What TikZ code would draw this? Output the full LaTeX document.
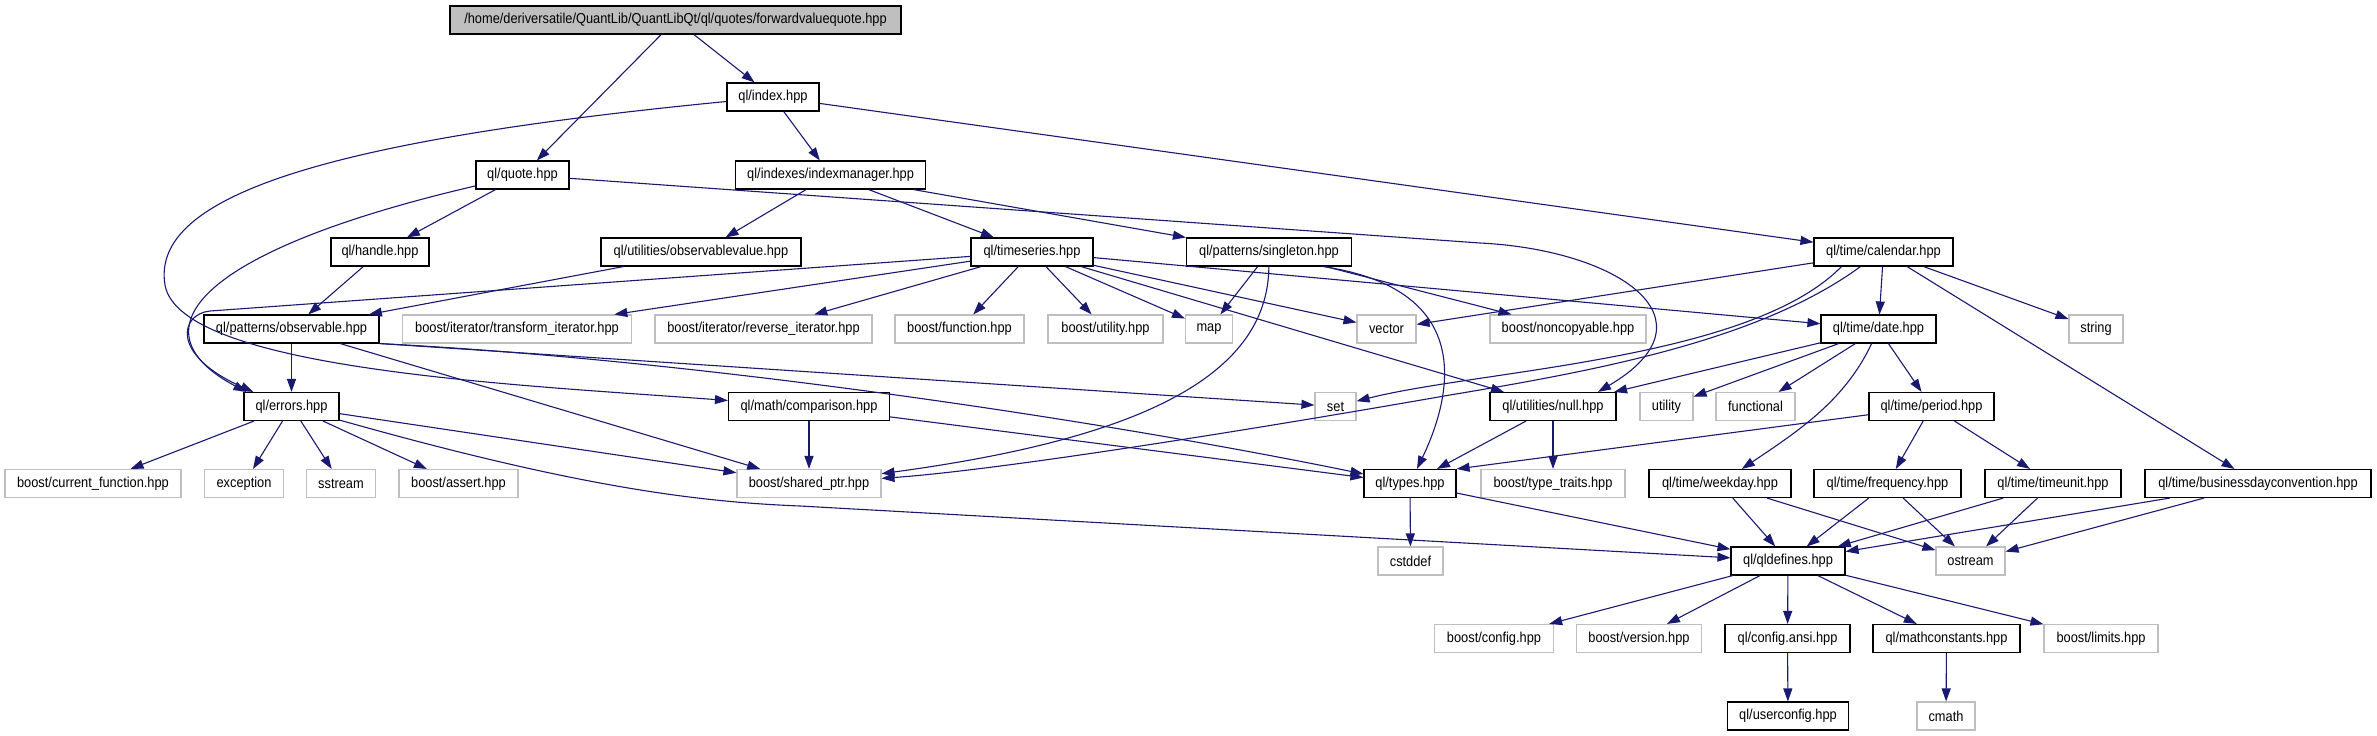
\documentclass[tikz,border=0pt]{standalone}
\usepackage{fontspec}
\setmainfont[FakeStretch=0.89]{Liberation Sans}
\usetikzlibrary{arrows.meta}
\definecolor{edgecol}{HTML}{191970}
\definecolor{boxgray}{HTML}{BFBFBF}
\begin{document}
\begin{tikzpicture}[x=1pt,y=-1pt,
  fbox/.style={rectangle, draw=black, line width=1.1pt, minimum height=28pt, inner sep=0pt, font=\fontsize{14.4}{16}\selectfont, fill=white},
  sbox/.style={fbox, draw=boxgray},
  rbox/.style={fbox, fill=boxgray},
  dep/.style={draw=edgecol, line width=1.1pt, -{Triangle[length=13pt,width=9pt]}},
]
\useasboundingbox (0,0) rectangle (2377,736);
% row 0
\node[rbox, minimum width=451pt] (root) at (675.5,20) {/home/deriversatile/QuantLib/QuantLibQt/ql/quotes/forwardvaluequote.hpp};
% row 1
\node[fbox, minimum width=92pt] (index) at (773,97) {ql/index.hpp};
% row 2
\node[fbox, minimum width=93pt] (quote) at (522.5,175) {ql/quote.hpp};
\node[fbox, minimum width=190pt] (im) at (830.6,175) {ql/indexes/indexmanager.hpp};
% row 3
\node[fbox, minimum width=98pt] (handle) at (380,252) {ql/handle.hpp};
\node[fbox, minimum width=200pt] (obsval) at (701,252) {ql/utilities/observablevalue.hpp};
\node[fbox, minimum width=122pt] (timeseries) at (1032,252) {ql/timeseries.hpp};
\node[fbox, minimum width=165pt] (singleton) at (1269,252) {ql/patterns/singleton.hpp};
\node[fbox, minimum width=139pt] (calendar) at (1883.5,252) {ql/time/calendar.hpp};
% row 4
\node[fbox, minimum width=175pt] (observable) at (291.5,329) {ql/patterns/observable.hpp};
\node[sbox, minimum width=229pt] (transform) at (517,329) {boost/iterator/transform\_iterator.hpp};
\node[sbox, minimum width=217pt] (reverse) at (763.5,329) {boost/iterator/reverse\_iterator.hpp};
\node[sbox, minimum width=129pt] (function) at (959.5,329) {boost/function.hpp};
\node[sbox, minimum width=115pt] (butility) at (1105.5,329) {boost/utility.hpp};
\node[sbox, minimum width=47pt] (map) at (1209,329) {map};
\node[sbox, minimum width=59pt] (vector) at (1386.5,329) {vector};
\node[sbox, minimum width=156pt] (noncopyable) at (1568,329) {boost/noncopyable.hpp};
\node[fbox, minimum width=115pt] (date) at (1878.5,329) {ql/time/date.hpp};
\node[sbox, minimum width=54pt] (string) at (2096,329) {string};
% row 5
\node[fbox, minimum width=95pt] (errors) at (291.5,406.5) {ql/errors.hpp};
\node[fbox, minimum width=161pt] (comparison) at (809,406.5) {ql/math/comparison.hpp};
\node[sbox, minimum width=41pt] (set) at (1335.5,406.5) {set};
\node[fbox, minimum width=126pt] (null) at (1553,406.5) {ql/utilities/null.hpp};
\node[sbox, minimum width=53pt] (utility) at (1666.5,406.5) {utility};
\node[sbox, minimum width=79pt] (functional) at (1755.5,406.5) {functional};
\node[fbox, minimum width=125pt] (period) at (1931.5,406.5) {ql/time/period.hpp};
% row 6
\node[sbox, minimum width=176pt] (curfun) at (93,483.5) {boost/current\_function.hpp};
\node[sbox, minimum width=79pt] (exception) at (244,483.5) {exception};
\node[sbox, minimum width=69pt] (sstream) at (341,483.5) {sstream};
\node[sbox, minimum width=119pt] (assert) at (458.5,483.5) {boost/assert.hpp};
\node[sbox, minimum width=144pt] (sharedptr) at (809,483.5) {boost/shared\_ptr.hpp};
\node[fbox, minimum width=92pt] (types) at (1410,483.5) {ql/types.hpp};
\node[sbox, minimum width=144pt] (typetraits) at (1553,483.5) {boost/type\_traits.hpp};
\node[fbox, minimum width=142pt] (weekday) at (1720,483.5) {ql/time/weekday.hpp};
\node[fbox, minimum width=147pt] (frequency) at (1887.5,483.5) {ql/time/frequency.hpp};
\node[fbox, minimum width=136pt] (timeunit) at (2053,483.5) {ql/time/timeunit.hpp};
\node[fbox, minimum width=226pt] (bdc) at (2258,483.5) {ql/time/businessdayconvention.hpp};
% row 7
\node[sbox, minimum width=65pt] (cstddef) at (1410.5,561) {cstddef};
\node[fbox, minimum width=114pt] (qldefines) at (1788,561) {ql/qldefines.hpp};
\node[sbox, minimum width=69pt] (ostream) at (1970.5,561) {ostream};
% row 8
\node[sbox, minimum width=119pt] (bconfig) at (1494,638.5) {boost/config.hpp};
\node[sbox, minimum width=125pt] (version) at (1639,638.5) {boost/version.hpp};
\node[fbox, minimum width=125pt] (configansi) at (1787.5,638.5) {ql/config.ansi.hpp};
\node[fbox, minimum width=147pt] (mathconst) at (1946.5,638.5) {ql/mathconstants.hpp};
\node[sbox, minimum width=114pt] (limits) at (2101,638.5) {boost/limits.hpp};
% row 9
\node[fbox, minimum width=121pt] (userconfig) at (1788,716) {ql/userconfig.hpp};
\node[sbox, minimum width=58pt] (cmath) at (1946,716) {cmath};

% edges
\draw[dep] (root) -- (index);
\draw[dep] (root) -- (quote);
\draw[dep] (index) -- (im);
\draw[dep] (index) -- (calendar);
\draw[dep] (index) .. controls (330,140) and (150,195) .. (165,285) .. controls (180,370) and (520,385) .. (comparison);
\draw[dep] (quote) -- (handle);
\draw[dep] (quote) .. controls (200,250) and (130,330) .. ([xshift=3pt]errors.north west);
\draw[dep] (quote) -- (1480,243) .. controls (1620,250) and (1720,320) .. ([xshift=45pt]null.north);
\draw[dep] (im) -- (obsval);
\draw[dep] (im) -- (timeseries);
\draw[dep] (im) -- (singleton);
\draw[dep] (handle) -- (observable);
\draw[dep] (obsval) -- (observable);
\draw[dep] (timeseries) -- (210,311) .. controls (180,314) and (170,355) .. ([xshift=10pt]errors.north west);
\draw[dep] (timeseries) -- (transform);
\draw[dep] (timeseries) -- (reverse);
\draw[dep] (timeseries) -- (function);
\draw[dep] (timeseries) -- (butility);
\draw[dep] (timeseries) -- (map);
\draw[dep] (timeseries) -- (vector);
\draw[dep] (timeseries) -- (null);
\draw[dep] (timeseries) -- (date);
\draw[dep] (singleton) -- (map);
\draw[dep] (singleton) -- (noncopyable);
\draw[dep] ([xshift=54pt]singleton.south) .. controls (1480,290) and (1450,400) .. (types);
\draw[dep] (singleton) .. controls (1268,380) and (1130,440) .. (sharedptr);
\draw[dep] (calendar) -- (vector);
\draw[dep] (calendar) -- (date);
\draw[dep] (calendar) -- (string);
\draw[dep] (calendar) -- (bdc);
\draw[dep] ([xshift=-42pt]calendar.south) .. controls (1750,360) and (1480,370) .. (set);
\draw[dep] ([xshift=-23pt]calendar.south) .. controls (1760,340) and (1600,370) .. (1450,395) .. controls (1250,430) and (1000,470) .. (sharedptr);
\draw[dep] (observable) -- (errors);
\draw[dep] (observable) -- (sharedptr);
\draw[dep] (observable.south east) -- (set);
\draw[dep] (observable.south east) .. controls (700,360) and (1100,420) .. (types);
\draw[dep] (date) -- (null);
\draw[dep] (date) -- (utility);
\draw[dep] (date) -- (functional);
\draw[dep] (date) .. controls (1845,400) and (1800,430) .. (weekday);
\draw[dep] (date) -- (period);
\draw[dep] (period) -- (types.north east);
\draw[dep] (period) -- (frequency);
\draw[dep] (period) -- (timeunit);
\draw[dep] (null) -- (types);
\draw[dep] (null) -- (typetraits);
\draw[dep] (errors) -- (curfun);
\draw[dep] (errors) -- (exception);
\draw[dep] (errors) -- (sstream);
\draw[dep] (errors) -- (assert);
\draw[dep] (errors) -- (sharedptr);
\draw[dep] (errors) .. controls (580,488) and (700,502) .. (800,506) -- (qldefines);
\draw[dep] (comparison) -- (sharedptr);
\draw[dep] (comparison) -- (types);
\draw[dep] (types) -- (cstddef);
\draw[dep] (types) -- (qldefines);
\draw[dep] (weekday) -- (qldefines);
\draw[dep] (weekday) -- (ostream);
\draw[dep] (frequency) -- (qldefines);
\draw[dep] (frequency) -- (ostream);
\draw[dep] (timeunit) -- (qldefines);
\draw[dep] (timeunit) -- (ostream);
\draw[dep] (bdc) -- (qldefines);
\draw[dep] (bdc) -- (ostream);
\draw[dep] (qldefines) -- (bconfig);
\draw[dep] (qldefines) -- (version);
\draw[dep] (qldefines) -- (configansi);
\draw[dep] (qldefines) -- (mathconst);
\draw[dep] (qldefines) -- (limits);
\draw[dep] (configansi) -- (userconfig);
\draw[dep] (mathconst) -- (cmath);
\end{tikzpicture}
\end{document}
